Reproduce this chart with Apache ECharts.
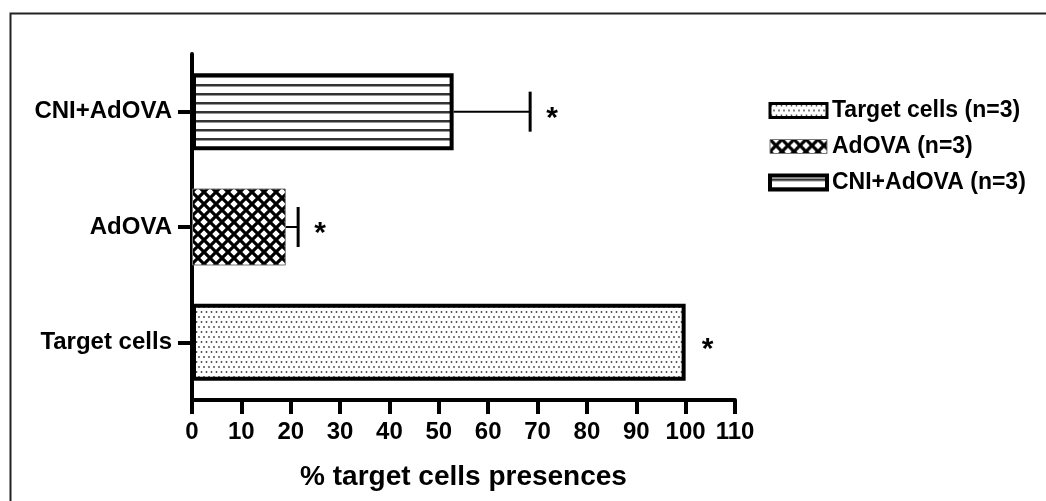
<!DOCTYPE html>
<html>
<head>
<meta charset="utf-8">
<script src="https://cdn.jsdelivr.net/npm/echarts@6/dist/echarts.min.js"></script>
<style>
html,body{margin:0;padding:0;background:#fff;}
#chart{width:1046px;height:501px;}
</style>
</head>
<body>
<div id="chart"></div>
<script>
// ---- data ----
var categories = ['Target cells', 'AdOVA', 'CNI+AdOVA'];
var seriesNames = ['Target cells (n=3)', 'AdOVA (n=3)', 'CNI+AdOVA (n=3)'];
var means = [100, 19, 53];
var errors = [0, 2.5, 15.5];
var xTicks = [0, 10, 20, 30, 40, 50, 60, 70, 80, 90, 100, 110];
var xTitle = '% target cells presences';
var sigMark = '*';

var FONT = '"Liberation Sans", Arial, Helvetica, sans-serif';

// ---- patterns ----
function dotPattern() {
  var c = document.createElement('canvas');
  c.width = 5; c.height = 10;
  var g = c.getContext('2d');
  g.fillStyle = '#fff'; g.fillRect(0, 0, 5, 10);
  g.fillStyle = '#444';
  g.beginPath(); g.arc(1.5, 2, 0.9, 0, Math.PI * 2); g.fill();
  g.beginPath(); g.arc(4, 7, 0.9, 0, Math.PI * 2); g.fill();
  g.beginPath(); g.arc(-1, 7, 0.9, 0, Math.PI * 2); g.fill();
  return c;
}
function crossPattern() {
  var s = 12;
  var c = document.createElement('canvas');
  c.width = s; c.height = s;
  var g = c.getContext('2d');
  g.fillStyle = '#fff'; g.fillRect(0, 0, s, s);
  g.strokeStyle = '#000'; g.lineWidth = 3.2;
  g.beginPath();
  g.moveTo(-2, -2); g.lineTo(s + 2, s + 2);
  g.moveTo(s + 2, -2); g.lineTo(-2, s + 2);
  g.stroke();
  return c;
}
function hlinePattern() {
  var c = document.createElement('canvas');
  c.width = 8; c.height = 9;
  var g = c.getContext('2d');
  g.fillStyle = '#fff'; g.fillRect(0, 0, 8, 9);
  g.fillStyle = '#333'; g.fillRect(0, 3, 8, 2.5);
  return c;
}
var fills = [
  {image: dotPattern(), repeat: 'repeat'},
  {image: crossPattern(), repeat: 'repeat'},
  {image: hlinePattern(), repeat: 'repeat'}
];
var borders = [
  {color: '#000', width: 4},
  {color: '#777', width: 1},
  {color: '#000', width: 4}
];
var legendBorders = [3, 1, 4];

var series = [];
for (var i = 0; i < categories.length; i++) {
  var d = categories.map(function (c, j) { return j === i ? means[j] : '-'; });
  series.push({
    name: seriesNames[i],
    type: 'bar',
    data: d,
    barWidth: 77,
    barGap: '-100%',
    itemStyle: {color: fills[i], borderColor: borders[i].color, borderWidth: borders[i].width},
    emphasis: {disabled: true},
    silent: true,
    z: 2
  });
}
var errData = categories.map(function (c, j) { return [j, means[j], errors[j]]; });
series.push({
  type: 'custom',
  silent: true,
  z: 3,
  encode: {x: 1, y: 0},
  data: errData,
  renderItem: function (params, api) {
    var cat = api.value(0), m = api.value(1), e = api.value(2);
    var p0 = api.coord([m, cat]);
    var p1 = api.coord([m + e, cat]);
    var ch = [];
    if (e > 0) {
      ch.push({type: 'line', shape: {x1: p0[0], y1: p0[1], x2: p1[0], y2: p1[1]}, style: {stroke: '#000', lineWidth: 2}});
      ch.push({type: 'line', shape: {x1: p1[0], y1: p1[1] - 20, x2: p1[0], y2: p1[1] + 20}, style: {stroke: '#000', lineWidth: 3}});
    }
    ch.push({type: 'text', x: p1[0] + 22, y: p1[1] + 7, style: {text: sigMark, font: 'bold 30px ' + FONT, fill: '#000', align: 'center', verticalAlign: 'middle'}});
    return {type: 'group', children: ch};
  }
});

var chart = echarts.init(document.getElementById('chart'), null, {renderer: 'canvas'});
chart.setOption({
  animation: false,
  backgroundColor: '#fff',
  graphic: [{
    type: 'rect', left: 8, top: 11, shape: {width: 1200, height: 700},
    style: {fill: 'none', stroke: '#222', lineWidth: 2}, silent: true
  }],
  legend: {
    orient: 'vertical',
    left: 763, top: 94,
    itemWidth: 57, itemHeight: 14, itemGap: 13,
    icon: 'rect',
    data: seriesNames.map(function (n, i) {
      return {name: n, itemStyle: {borderWidth: legendBorders[i], borderColor: borders[i].color}};
    }),
    textStyle: {fontFamily: FONT, fontWeight: 'bold', fontSize: 23, color: '#000'},
    selectedMode: false
  },
  grid: {left: 192, right: 311, top: 54, bottom: 101, containLabel: false},
  xAxis: {
    type: 'value', min: 0, max: 110, interval: 10,
    name: xTitle, nameLocation: 'middle', nameGap: 63,
    nameTextStyle: {fontFamily: FONT, fontWeight: 'bold', fontSize: 28, color: '#000'},
    axisLine: {show: true, lineStyle: {color: '#000', width: 4}},
    axisTick: {show: true, length: 14, lineStyle: {color: '#000', width: 4}},
    splitLine: {show: false},
    axisLabel: {
      margin: 20, fontFamily: FONT, fontWeight: 'bold', fontSize: 24, color: '#000',
      formatter: function (v) { return xTicks.indexOf(v) >= 0 ? String(v) : ''; }
    }
  },
  yAxis: {
    type: 'category', data: categories,
    axisLine: {show: true, lineStyle: {color: '#000', width: 4}},
    axisTick: {show: true, alignWithLabel: true, length: 14, lineStyle: {color: '#000', width: 4}},
    axisLabel: {margin: 20, fontFamily: FONT, fontWeight: 'bold', fontSize: 24, color: '#000'}
  },
  series: series
});
</script>
</body>
</html>
